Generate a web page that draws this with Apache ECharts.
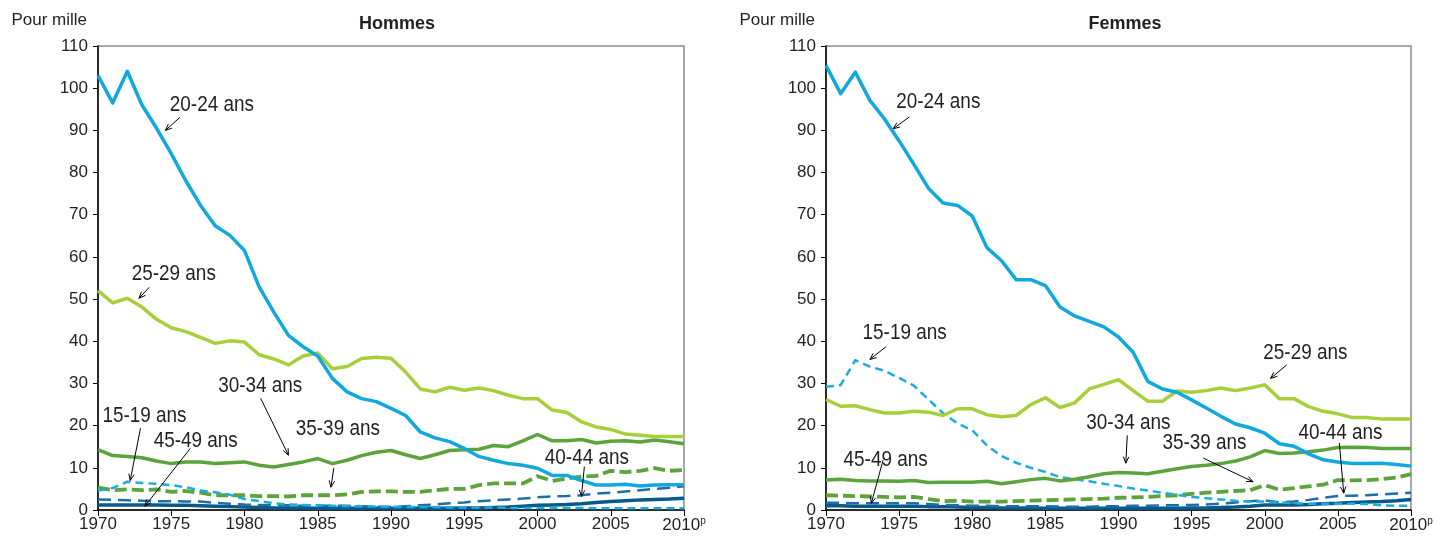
<!DOCTYPE html>
<html>
<head>
<meta charset="utf-8">
<script src="https://cdn.jsdelivr.net/npm/echarts@6/dist/echarts.min.js"></script>
<style>
  html, body { margin: 0; padding: 0; background: #fff; }
  #main { width: 1449px; height: 544px; }
</style>
</head>
<body>
<div id="main"></div>
<script>
// years 1970 .. 2010
var years = [];
for (var y = 1970; y <= 2010; y++) years.push(y);

var yTicks = [0, 10, 20, 30, 40, 50, 60, 70, 80, 90, 100, 110];
var xTicks = [1970, 1975, 1980, 1985, 1990, 1995, 2000, 2005, 2010];

// Hommes, pour mille
var h15_19 = [4.6,5.2,6.7,6.4,6.2,5.9,5.4,4.6,4.2,3.6,2.6, 2.1,1.6,1.3,1.2,1.1,1.0,0.9,0.9,0.8,0.8, 0.7,0.7,0.7,0.6,0.6,0.6,0.6,0.5,0.5,0.5, 0.5,0.5,0.5,0.4,0.4,0.4,0.4,0.4,0.4,0.4];
var h20_24 = [103,96.5,104,96,90.5,84.5,78,72.2,67.4,65.1,61.5, 52.9,46.9,41.4,38.7,36.5,31.2,28,26.4,25.7,24.1, 22.4,18.5,17.1,16.2,14.6,12.7,11.8,11,10.6,9.9, 8.2,8.2,7,5.9,5.9,6.1,5.7,5.9,6,6];
var h25_29 = [52,49.1,50.2,48.1,45.2,43.2,42.3,40.9,39.5,40.1,39.8, 36.8,35.8,34.4,36.5,37.2,33.5,34,35.9,36.2,36, 32.7,28.7,28,29.1,28.4,28.9,28.3,27.2,26.4,26.4, 23.7,23.1,20.9,19.7,19.1,18,17.7,17.4,17.4,17.4];
var h30_34 = [14.3,12.9,12.7,12.4,11.6,11,11.4,11.4,11,11.2,11.4, 10.6,10.2,10.8,11.4,12.2,11,11.8,12.9,13.7,14.1, 13.1,12.2,13.1,14.1,14.3,14.4,15.3,15,16.4,17.9, 16.4,16.4,16.7,15.9,16.3,16.4,16.1,16.6,16.2,15.7];
var h35_39 = [5.3,4.7,4.9,4.7,4.9,4.3,4.5,4.1,3.5,3.5,3.5, 3.3,3.3,3.2,3.5,3.5,3.5,3.7,4.3,4.4,4.4, 4.3,4.3,4.7,5,5,5.9,6.3,6.3,6.3,8, 6.9,7.5,7.9,8.1,9.3,9,9.3,9.9,9.3,9.5];
var h40_44 = [2.5,2.4,2.3,2.2,2.1,2.1,2.0,2.0,1.7,1.5,1.3, 1.2,1.1,1.1,1.0,1.0,1.0,1.0,0.9,0.8,0.7, 0.9,1.1,1.3,1.6,1.8,2.1,2.3,2.5,2.7,3.0, 3.2,3.3,3.5,3.9,4.1,4.4,4.7,5.0,5.3,5.6];
var h45_49 = [1.2,1.2,1.2,1.2,1.2,1.1,1.1,1.0,0.9,0.8,0.7, 0.6,0.5,0.5,0.5,0.4,0.4,0.4,0.4,0.4,0.4, 0.4,0.4,0.4,0.4,0.5,0.5,0.6,0.7,0.9,1.1, 1.2,1.3,1.5,1.8,2.0,2.2,2.4,2.5,2.6,2.8];

// Femmes, pour mille
var f15_19 = [29.2,29.6,35.5,34.0,33.0,31.3,29.5,26.2,23.0,20.5,18.9, 15.3,12.8,11.2,10.0,9.0,7.8,7.3,6.8,6.2,5.7, 5.1,4.6,4.1,3.6,3.1,2.8,2.5,2.2,2.0,2.0, 1.8,1.6,1.5,1.5,1.5,1.5,1.4,1.1,1.0,1.0];
var f20_24 = [105.4,98.7,103.8,97.1,92.7,87.5,82,76.3,72.8,72.2,69.7, 62.2,59.1,54.6,54.6,53.2,48.1,46.0,44.7,43.4,41.0, 37.4,30.5,28.7,27.9,26.1,24.2,22.2,20.4,19.5,18.2, 15.7,15.1,13.3,11.9,11.4,11.0,11.0,11.1,10.8,10.4];
var f25_29 = [26.2,24.6,24.7,23.8,23.0,23.0,23.4,23.2,22.4,24.0,24.0, 22.6,22.1,22.4,25.0,26.6,24.3,25.4,28.7,29.8,30.9, 28.3,25.8,25.8,28.2,27.9,28.3,28.9,28.3,28.9,29.7, 26.4,26.4,24.5,23.4,22.8,21.9,21.9,21.6,21.6,21.6];
var f30_34 = [7.1,7.3,7.0,6.9,6.9,6.8,7.0,6.5,6.6,6.6,6.6, 6.8,6.2,6.7,7.2,7.5,6.9,7.3,7.9,8.6,8.9, 8.8,8.6,9.2,9.8,10.3,10.6,11.0,11.6,12.6,14.1, 13.4,13.5,13.8,14.2,14.8,14.9,14.8,14.6,14.6,14.6];
var f35_39 = [3.5,3.4,3.3,3.2,3.1,3.0,3.1,2.6,2.1,2.2,2.0, 2.0,2.0,2.1,2.2,2.3,2.4,2.5,2.6,2.7,2.9, 3.0,3.1,3.3,3.5,3.8,4.1,4.3,4.5,4.7,5.9, 4.8,5.2,5.6,6.0,7.1,7.0,7.1,7.3,7.7,8.5];
var f40_44 = [1.7,1.7,1.6,1.6,1.6,1.6,1.6,1.4,1.2,1.1,1.0, 1.0,0.9,0.9,0.9,0.9,0.8,0.8,0.8,0.9,0.9, 1.0,1.0,1.1,1.1,1.2,1.3,1.5,1.8,2.1,2.3, 1.8,2.0,2.4,2.9,3.3,3.4,3.5,3.7,3.9,4.1];
var f45_49 = [1.0,1.0,0.9,0.9,0.9,0.9,0.9,0.8,0.8,0.7,0.6, 0.6,0.5,0.5,0.5,0.4,0.4,0.4,0.4,0.4,0.4, 0.4,0.4,0.4,0.4,0.5,0.5,0.6,0.7,0.9,1.2, 1.2,1.2,1.3,1.5,1.6,1.8,1.9,2.0,2.2,2.5];

// annotation labels: text anchor (left, middle) and arrow, in data coordinates
var notes = [
  {g: 0, text: '20-24 ans', at: [1974.9, 96.0], from: [1975.6, 93.1], to: [1974.6, 90.0]},
  {g: 0, text: '25-29 ans', at: [1972.3, 55.9], from: [1973.5, 52.8], to: [1972.8, 50.2]},
  {g: 0, text: '30-34 ans', at: [1978.2, 29.5], from: [1981.1, 26.5], to: [1983.0, 13.0]},
  {g: 0, text: '35-39 ans', at: [1983.5, 19.2], from: [1986.1, 10.0], to: [1985.9, 5.4]},
  {g: 0, text: '15-19 ans', at: [1970.3, 22.4], from: [1972.9, 19.4], to: [1972.2, 7.0]},
  {g: 0, text: '45-49 ans', at: [1973.8, 16.3], from: [1976.3, 14.6], to: [1973.2, 0.9]},
  {g: 0, text: '40-44 ans', at: [2000.5, 12.3], from: [2003.2, 10.3], to: [2003.0, 3.2]},
  {g: 1, text: '20-24 ans', at: [1974.8, 96.7], from: [1975.7, 93.2], to: [1974.6, 90.4]},
  {g: 1, text: '15-19 ans', at: [1972.5, 41.9], from: [1974.1, 38.7], to: [1973.0, 35.7]},
  {g: 1, text: '25-29 ans', at: [1999.9, 37.2], from: [2001.5, 34.4], to: [2000.4, 31.2]},
  {g: 1, text: '30-34 ans', at: [1987.8, 20.6], from: [1990.6, 17.7], to: [1990.5, 11.1]},
  {g: 1, text: '35-39 ans', at: [1993.0, 15.9], from: [1995.8, 12.3], to: [1999.2, 6.7]},
  {g: 1, text: '40-44 ans', at: [2002.3, 18.3], from: [2005.1, 15.9], to: [2005.4, 4.0]},
  {g: 1, text: '45-49 ans', at: [1971.2, 11.8], from: [1973.9, 11.8], to: [1973.1, 1.6]}
];

var FONT = '"Liberation Sans", Arial, sans-serif';
var TXT = '#231f20';

var styles = {
  s15: {color: '#1aace3', width: 2.5, type: [8, 5]},
  s20: {color: '#10a8de', width: 3.5, type: 'solid'},
  s25: {color: '#a8cf3a', width: 3.5, type: 'solid'},
  s30: {color: '#5ba33b', width: 3.5, type: 'solid'},
  s35: {color: '#5ba33b', width: 3.8, type: [12, 5]},
  s40: {color: '#1d6ea6', width: 2.5, type: [13, 7]},
  s45: {color: '#075a8a', width: 3.5, type: 'solid'}
};

function pairs(arr) {
  return years.map(function (yr, i) { return [yr, arr[i]]; });
}

function line(name, arr, gi, st, z) {
  return {
    type: 'line', name: name, xAxisIndex: gi, yAxisIndex: gi,
    data: pairs(arr), symbol: 'none', silent: true, z: z,
    lineStyle: {color: st.color, width: st.width, type: st.type, cap: 'butt', join: 'round'}
  };
}

function xAxis(gi) {
  return {
    type: 'value', gridIndex: gi, min: 1970, max: 2010, interval: 5,
    axisLine: {show: true, lineStyle: {color: '#000', width: 1.5}},
    axisTick: {show: true, length: 6, lineStyle: {color: '#000'}},
    splitLine: {show: false},
    axisLabel: {
      margin: 6, color: TXT, fontFamily: FONT, fontSize: 17,
      formatter: function (v) { return v === 2010 ? '2010{p|p}' : String(v); },
      rich: {p: {fontSize: 10, fontFamily: FONT, color: TXT, padding: [0, 0, 9, 0]}}
    }
  };
}

function yAxis(gi) {
  return {
    type: 'value', gridIndex: gi, min: 0, max: 110, interval: 10,
    name: 'Pour mille', nameLocation: 'end', nameGap: 26,
    nameTextStyle: {align: 'right', verticalAlign: 'middle', padding: [0, 11, 0, 0],
      color: TXT, fontFamily: FONT, fontSize: 17},
    axisLine: {show: true, lineStyle: {color: '#000', width: 1.5}},
    axisTick: {show: true, length: 5, lineStyle: {color: '#000'}},
    splitLine: {show: false},
    axisLabel: {margin: 10, color: TXT, fontFamily: FONT, fontSize: 17}
  };
}

var chart = echarts.init(document.getElementById('main'));

var option = {
  animation: false,
  backgroundColor: '#fff',
  title: [
    {text: 'Hommes', left: 392, top: 10, textAlign: 'center',
      textStyle: {fontFamily: FONT, fontSize: 18, fontWeight: 'bold', color: TXT}},
    {text: 'Femmes', left: 1120, top: 10, textAlign: 'center',
      textStyle: {fontFamily: FONT, fontSize: 18, fontWeight: 'bold', color: TXT}}
  ],
  grid: [
    {left: 98, top: 46, width: 586, height: 464, show: true, borderColor: '#8a8a8a', borderWidth: 1.5},
    {left: 826, top: 46, width: 585, height: 464, show: true, borderColor: '#8a8a8a', borderWidth: 1.5}
  ],
  xAxis: [xAxis(0), xAxis(1)],
  yAxis: [yAxis(0), yAxis(1)],
  series: [
    line('45-49 ans', h45_49, 0, styles.s45, 2),
    line('40-44 ans', h40_44, 0, styles.s40, 3),
    line('35-39 ans', h35_39, 0, styles.s35, 4),
    line('15-19 ans', h15_19, 0, styles.s15, 5),
    line('30-34 ans', h30_34, 0, styles.s30, 6),
    line('25-29 ans', h25_29, 0, styles.s25, 7),
    line('20-24 ans', h20_24, 0, styles.s20, 8),
    line('45-49 ans', f45_49, 1, styles.s45, 2),
    line('40-44 ans', f40_44, 1, styles.s40, 3),
    line('35-39 ans', f35_39, 1, styles.s35, 4),
    line('15-19 ans', f15_19, 1, styles.s15, 5),
    line('30-34 ans', f30_34, 1, styles.s30, 6),
    line('25-29 ans', f25_29, 1, styles.s25, 7),
    line('20-24 ans', f20_24, 1, styles.s20, 8)
  ]
};
chart.setOption(option);

// annotations: condensed text + small arrow, positioned from data coordinates
var elems = [];
notes.forEach(function (n) {
  var p = chart.convertToPixel({gridIndex: n.g}, n.at);
  var a = chart.convertToPixel({gridIndex: n.g}, n.from);
  var b = chart.convertToPixel({gridIndex: n.g}, n.to);
  elems.push({
    type: 'text', x: p[0], y: p[1], scaleX: 0.86, z: 20,
    style: {text: n.text, fill: TXT, font: '22px ' + FONT, textAlign: 'left', textVerticalAlign: 'middle'}
  });
  elems.push({
    type: 'line', z: 20,
    shape: {x1: a[0], y1: a[1], x2: b[0], y2: b[1]},
    style: {stroke: '#000', lineWidth: 1}
  });
  var ang = Math.atan2(b[1] - a[1], b[0] - a[0]);
  var len = 7, spread = 0.4;
  elems.push({
    type: 'polyline', z: 20,
    shape: {points: [
      [b[0] - len * Math.cos(ang - spread), b[1] - len * Math.sin(ang - spread)],
      [b[0], b[1]],
      [b[0] - len * Math.cos(ang + spread), b[1] - len * Math.sin(ang + spread)]
    ]},
    style: {stroke: '#000', lineWidth: 1, fill: null}
  });
});
chart.setOption({graphic: elems});
</script>
</body>
</html>
